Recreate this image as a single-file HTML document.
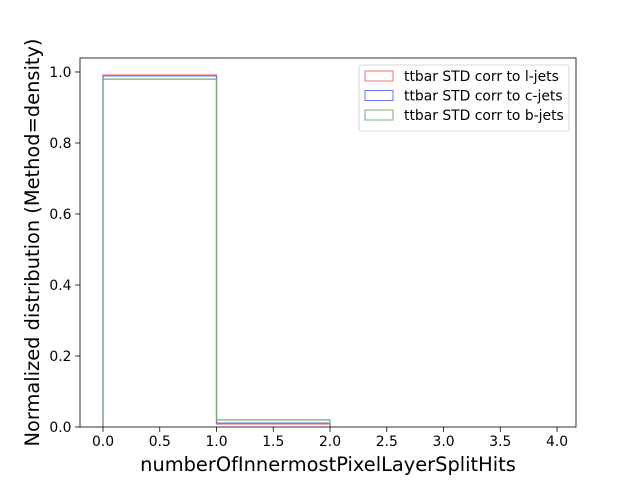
<!DOCTYPE html>
<html><head><meta charset="utf-8"><style>body{margin:0;background:#fff}svg{display:block;font-family:"DejaVu Sans","Liberation Sans",sans-serif}</style></head>
<body>
<svg id="chart" width="640" height="480" viewBox="0 0 640 480"></svg>
<script>
const binEdges = [0, 1, 2];
const seriesNames = ["ttbar STD corr to l-jets", "ttbar STD corr to c-jets", "ttbar STD corr to b-jets"];
const lJets = [0.9915, 0.0085];
const cJets = [0.989, 0.011];
const bJets = [0.980, 0.020];
const xTicks = [0, 0.5, 1, 1.5, 2, 2.5, 3, 3.5, 4];
const yTicks = [0, 0.2, 0.4, 0.6, 0.8, 1.0];

const colors = ["#ff7070", "#7070ff", "#70b070"];
const L = 80, R = 576, T = 58, B = 427;
const xMin = -0.2026, xMax = 4.167, yMin = 0, yMax = 1.0394;
const sx = v => L + (v - xMin) / (xMax - xMin) * (R - L);
const sy = v => B - (v - yMin) / (yMax - yMin) * (B - T);
const svg = document.getElementById('chart');
const NS = 'http://www.w3.org/2000/svg';
function mk(tag, attrs, parent) {
  const e = document.createElementNS(NS, tag);
  for (const k in attrs) e.setAttribute(k, attrs[k]);
  (parent || svg).appendChild(e);
  return e;
}

[lJets, cJets, bJets].forEach((vals, si) => {
  let d = `M${sx(binEdges[0])},${sy(0)}`;
  vals.forEach((v, i) => {
    d += ` L${sx(binEdges[i])},${sy(v)} L${sx(binEdges[i + 1])},${sy(v)}`;
  });
  d += ` L${sx(binEdges[binEdges.length - 1])},${sy(0)}`;
  const p = mk('path', { d: d, fill: 'none', stroke: colors[si], 'stroke-width': 1.2 });
  
  
});

const frame = mk('rect', { x: L, y: T, width: R - L, height: B - T, fill: 'none', stroke: '#000', 'stroke-width': 0.8 });



xTicks.forEach(t => {
  const x = sx(t);
  mk('line', { x1: x, x2: x, y1: B, y2: B + 4.9, stroke: '#000', 'stroke-width': 0.8 });
  const tx = mk('text', { x: x, y: B + 19, 'font-size': 13.9, 'text-anchor': 'middle' });
  tx.textContent = t.toFixed(1);
  
  
});
yTicks.forEach(t => {
  const y = sy(t);
  mk('line', { x1: L - 4.9, x2: L, y1: y, y2: y, stroke: '#000', 'stroke-width': 0.8 });
  const tx = mk('text', { x: L - 8.5, y: y + 5, 'font-size': 13.9, 'text-anchor': 'end' });
  tx.textContent = t.toFixed(1);
  
  
});

const xl = mk('text', { x: (L + R) / 2, y: 471, 'font-size': 19.4, 'text-anchor': 'middle' });
xl.textContent = 'numberOfInnermostPixelLayerSplitHits';


const yl = mk('text', { x: 0, y: 0, 'font-size': 19.4, 'text-anchor': 'middle', transform: `translate(39,${(T + B) / 2}) rotate(-90)` });
yl.textContent = 'Normalized distribution (Method=density)';



const lg = mk('g', {});


mk('rect', { x: 359, y: 65, width: 210, height: 66, rx: 2, fill: '#fff', stroke: '#ccc', 'stroke-width': 0.8 }, lg);
seriesNames.forEach((n, i) => {
  const y = 76 + i * 19.5;
  mk('rect', { x: 365, y: y - 5, width: 28, height: 10, fill: 'none', stroke: colors[i], 'stroke-width': 1 }, lg);
  const t = mk('text', { x: 404, y: y + 5, 'font-size': 13.9 }, lg);
  t.textContent = n;
  
  
});
</script>
</body></html>
